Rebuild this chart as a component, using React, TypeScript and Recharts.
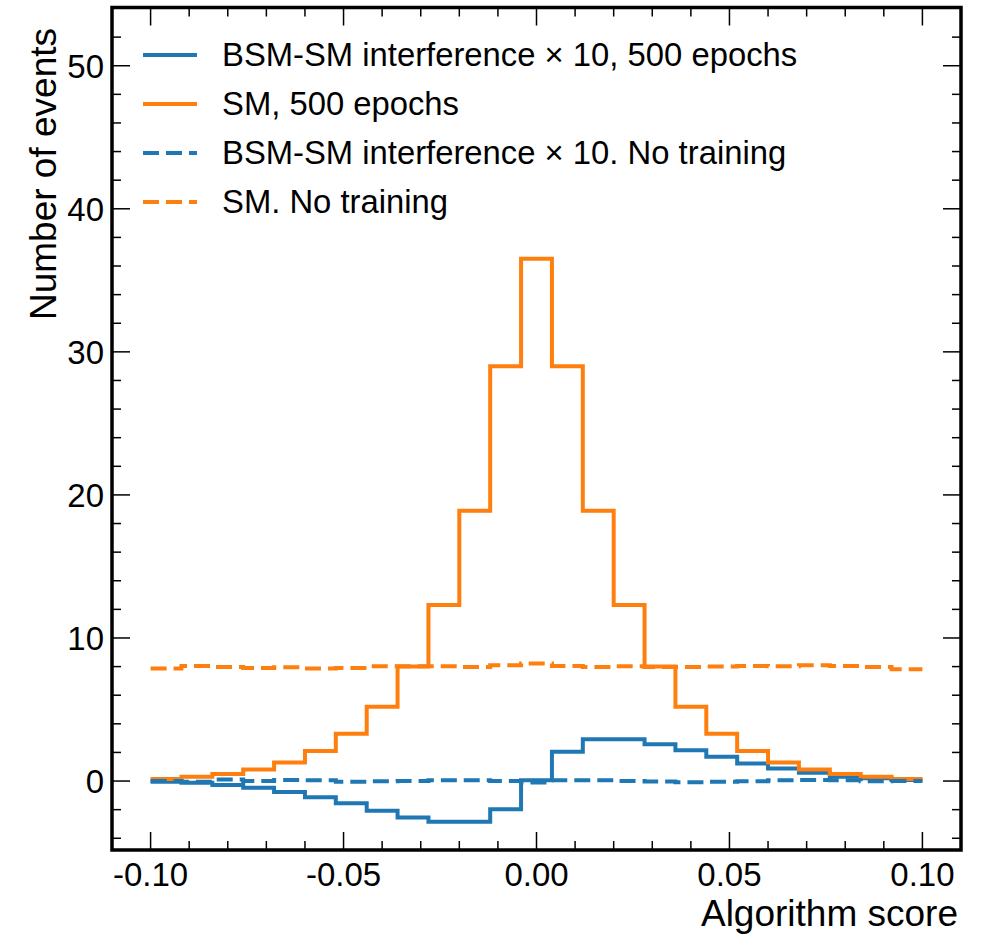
import React from 'react';
import { Legend, Line, LineChart, ReferenceArea, XAxis, YAxis } from 'recharts';

const FONT = '"Liberation Sans", Arial, Helvetica, sans-serif';
const BLUE = '#1f77b4';
const ORANGE = '#ff7f0e';

// plot frame in page pixels
const PL = 112;
const PR = 961;
const PT = 7.5;
const PB = 850;

const binEdges = [
    -0.1, -0.092, -0.084, -0.076, -0.068, -0.06, -0.052, -0.044, -0.036, -0.028, -0.02, -0.012, -0.004,
    0.004, 0.012, 0.02, 0.028, 0.036, 0.044, 0.052, 0.06, 0.068, 0.076, 0.084, 0.092, 0.1,
];

const bsmTrained = [
    -0.05, -0.12, -0.28, -0.47, -0.77, -1.14, -1.56, -2.07, -2.54, -2.84, -2.84, -1.98, 0.05,
    2.05, 2.93, 2.93, 2.58, 2.16, 1.7, 1.23, 0.88, 0.58, 0.3, 0.19, 0.07,
];
const smTrained = [
    0.15, 0.3, 0.5, 0.8, 1.3, 2.1, 3.3, 5.2, 8.0, 12.3, 18.9, 29.0, 36.5,
    29.0, 18.9, 12.3, 8.0, 5.2, 3.3, 2.1, 1.3, 0.8, 0.5, 0.3, 0.15,
];
const bsmUntrained = [
    0.0, -0.05, 0.1, 0.0, 0.08, 0.05, -0.05, -0.02, 0.0, 0.05, 0.06, 0.0, -0.1,
    0.05, 0.05, 0.0, -0.03, -0.08, -0.05, -0.02, 0.05, 0.08, 0.05, -0.02, 0.0,
];
const smUntrained = [
    7.87, 8.05, 7.98, 7.91, 7.96, 7.87, 7.91, 8.03, 8.03, 8.03, 7.98, 8.1, 8.21,
    8.05, 7.98, 8.03, 7.98, 7.98, 8.0, 8.05, 8.03, 8.1, 8.05, 7.98, 7.82,
];

const xTicks = [
    -0.1, -0.09, -0.08, -0.07, -0.06, -0.05, -0.04, -0.03, -0.02, -0.01, 0,
    0.01, 0.02, 0.03, 0.04, 0.05, 0.06, 0.07, 0.08, 0.09, 0.1,
];
const yTicks = [-4, -2, 0, 2, 4, 6, 8, 10, 12, 14, 16, 18, 20, 22, 24, 26, 28, 30, 32, 34, 36, 38, 40, 42, 44, 46, 48, 50, 52];

const legendItems = [
    { label: 'BSM-SM interference \u00d7 10, 500 epochs', color: BLUE, dashed: false },
    { label: 'SM, 500 epochs', color: ORANGE, dashed: false },
    { label: 'BSM-SM interference \u00d7 10. No training', color: BLUE, dashed: true },
    { label: 'SM. No training', color: ORANGE, dashed: true },
];

const DASH = '16 7';

const last = binEdges.length - 2;
const rows = binEdges.map((edge, i) => ({
    x: edge,
    bsmTrained: bsmTrained[Math.min(i, last)],
    smTrained: smTrained[Math.min(i, last)],
    bsmUntrained: bsmUntrained[Math.min(i, last)],
    smUntrained: smUntrained[Math.min(i, last)],
}));

const XTick = (props: any) => {
    const { x, payload } = props;
    const v = payload.value;
    const major = Math.round(v * 100) % 5 === 0;
    const len = major ? 18 : 9;
    return (
        <g>
            <line x1={x} y1={PB} x2={x} y2={PB - len} stroke="#000" strokeWidth={1.5} />
            <line x1={x} y1={PT} x2={x} y2={PT + len} stroke="#000" strokeWidth={1.5} />
            {major && (
                <text x={x} y={PB + 36} textAnchor="middle" fontSize={33} fontFamily={FONT} fill="#000">
                    {v.toFixed(2)}
                </text>
            )}
        </g>
    );
};

const YTick = (props: any) => {
    const { y, payload } = props;
    const v = payload.value;
    const major = v % 10 === 0;
    const len = major ? 18 : 9;
    return (
        <g>
            <line x1={PL} y1={y} x2={PL + len} y2={y} stroke="#000" strokeWidth={1.5} />
            <line x1={PR} y1={y} x2={PR - len} y2={y} stroke="#000" strokeWidth={1.5} />
            {major && (
                <text x={PL - 8} y={y} dy="0.36em" textAnchor="end" fontSize={33} fontFamily={FONT} fill="#000">
                    {v}
                </text>
            )}
        </g>
    );
};

const LegendBox = () => (
    <div style={{ fontFamily: FONT, fontSize: 32.8, color: '#000' }}>
        {legendItems.map((it) => (
            <div key={it.label} style={{ display: 'flex', alignItems: 'center', height: 49, whiteSpace: 'nowrap' }}>
                <svg width={54} height={10}>
                    <line
                        x1={0}
                        y1={5}
                        x2={54}
                        y2={5}
                        stroke={it.color}
                        strokeWidth={4}
                        strokeDasharray={it.dashed ? DASH : undefined}
                    />
                </svg>
                <span style={{ marginLeft: 25 }}>{it.label}</span>
            </div>
        ))}
    </div>
);

export default function App() {
    return (
        <div style={{ position: 'absolute', left: 0, top: 0 }}>
            <LineChart
                width={981}
                height={934}
                data={rows}
                margin={{ top: PT, right: 981 - PR, bottom: 0, left: 0 }}
            >
                <XAxis
                    dataKey="x"
                    type="number"
                    domain={[-0.11, 0.11]}
                    allowDataOverflow
                    ticks={xTicks}
                    interval={0}
                    height={934 - PB}
                    axisLine={false}
                    tickLine={false}
                    tick={XTick}
                    label={() => (
                        <text x={958} y={926} textAnchor="end" fontSize={37} fontFamily={FONT} fill="#000">
                            Algorithm score
                        </text>
                    )}
                />
                <YAxis
                    type="number"
                    domain={[-4.82, 54.07]}
                    allowDataOverflow
                    ticks={yTicks}
                    interval={0}
                    width={PL}
                    axisLine={false}
                    tickLine={false}
                    tick={YTick}
                    label={() => (
                        <text
                            x={56}
                            y={28}
                            transform="rotate(-90 56 28)"
                            textAnchor="end"
                            fontSize={37}
                            fontFamily={FONT}
                            fill="#000"
                        >
                            Number of events
                        </text>
                    )}
                />
                <ReferenceArea
                    x1={-0.11}
                    x2={0.11}
                    y1={-4.82}
                    y2={54.07}
                    ifOverflow="visible"
                    fill="none"
                    stroke="#000"
                    strokeWidth={3.5}
                />
                <Line type="stepAfter" dataKey="bsmTrained" stroke={BLUE} strokeWidth={4} dot={false} isAnimationActive={false} />
                <Line type="stepAfter" dataKey="smTrained" stroke={ORANGE} strokeWidth={4} dot={false} isAnimationActive={false} />
                <Line
                    type="stepAfter"
                    dataKey="bsmUntrained"
                    stroke={BLUE}
                    strokeWidth={4}
                    strokeDasharray={DASH}
                    dot={false}
                    isAnimationActive={false}
                />
                <Line
                    type="stepAfter"
                    dataKey="smUntrained"
                    stroke={ORANGE}
                    strokeWidth={4}
                    strokeDasharray={DASH}
                    dot={false}
                    isAnimationActive={false}
                />
                <Legend
                    layout="vertical"
                    align="center"
                    verticalAlign="middle"
                    content={<LegendBox />}
                    wrapperStyle={{ left: 143, top: 30, width: 'auto', height: 'auto' }}
                />
            </LineChart>
        </div>
    );
}
